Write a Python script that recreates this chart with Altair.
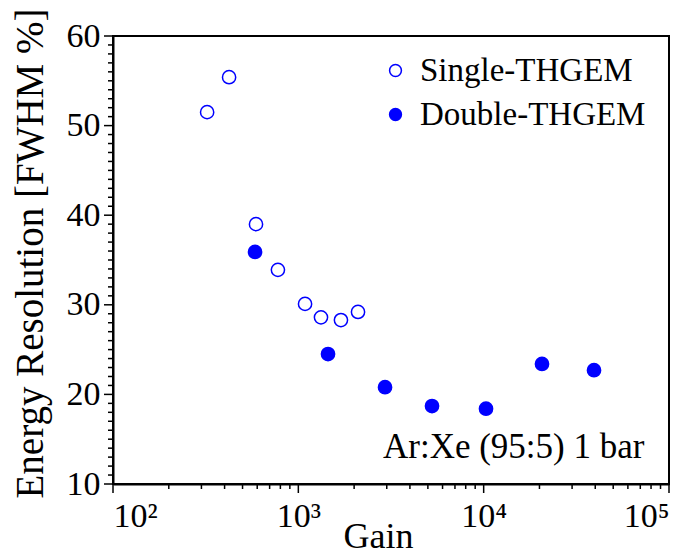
import altair as alt
import pandas as pd

# ---- data ----
single_gain = [322, 423, 591, 776, 1087, 1325, 1698, 2099]
single_res = [51.5, 55.4, 39.0, 33.9, 30.1, 28.6, 28.3, 29.2]
double_gain = [584, 1446, 2936, 5264, 10295, 20640, 39390]
double_res = [35.9, 24.5, 20.8, 18.7, 18.4, 23.4, 22.7]
series_names = ["Single-THGEM", "Double-THGEM"]

x_major = [100, 1000, 10000, 100000]
x_major_labels = ["10²", "10³", "10⁴", "10⁵"]
x_minor = [m * 10 ** e for e in (2, 3, 4) for m in range(2, 10)]
y_major = [10, 20, 30, 40, 50, 60]
y_minor = [v for v in range(10, 61) if v % 10 != 0]
annotation = "Ar:Xe (95:5) 1 bar"

FONT = "Liberation Serif"
BLUE = "#0000ff"
PLOT_W, PLOT_H = 556, 448

df = pd.DataFrame(
    {
        "gain": single_gain + double_gain,
        "res": single_res + double_res,
        "series": [series_names[0]] * len(single_gain) + [series_names[1]] * len(double_gain),
    }
)

label_expr = " : ".join(
    f"datum.value == {v} ? '{l}'" for v, l in zip(x_major, x_major_labels)
) + " : ''"

x_scale = alt.Scale(type="log", domain=[100, 100000], nice=False)
y_scale = alt.Scale(domain=[10, 60], nice=False, zero=False)

x_axis = alt.Axis(
    orient="bottom",
    values=x_major,
    labelExpr=label_expr,
    labelOverlap=False,
    labelFont=FONT,
    labelFontSize=34,
    labelColor="black",
    labelPadding=6,
    tickSize=9,
    tickOpacity=0,
    domainColor="black",
    domainWidth=2,
    grid=False,
    title="Gain",
    titleFont=FONT,
    titleFontSize=36,
    titleFontWeight="normal",
    titleColor="black",
    titleX=265,
    titleY=63,
    titleAlign="center",
    titleBaseline="alphabetic",
)

y_axis = alt.Axis(
    orient="left",
    values=y_major,
    labelOverlap=False,
    labelFont=FONT,
    labelFontSize=34,
    labelColor="black",
    labelPadding=4,
    tickSize=9,
    tickOpacity=0,
    domainColor="black",
    domainWidth=2,
    grid=False,
    title="Energy Resolution [FWHM %]",
    titleFont=FONT,
    titleFontSize=39,
    titleFontWeight="normal",
    titleColor="black",
    titleAngle=-90,
    titleX=-71,
    titleY=217,
    titleAlign="center",
    titleBaseline="alphabetic",
)

points = (
    alt.Chart(df)
    .mark_point(shape="circle", filled=True, stroke=BLUE, strokeWidth=1.5, size=175, opacity=1)
    .encode(
        x=alt.X("gain:Q", scale=x_scale, axis=x_axis),
        y=alt.Y("res:Q", scale=y_scale, axis=y_axis),
        fill=alt.Fill(
            "series:N",
            scale=alt.Scale(domain=series_names, range=["white", BLUE]),
            legend=alt.Legend(
                title=None,
                orient="none",
                legendX=266,
                legendY=18,
                symbolType="circle",
                symbolSize=140,
                symbolStrokeColor=BLUE,
                symbolStrokeWidth=1.5,
                labelFont=FONT,
                labelFontSize=33,
                labelColor="black",
                labelOffset=8,
                labelLimit=0,
                rowPadding=10,
                padding=0,
            ),
        ),
    )
)


def x_ticks_layer(values, length):
    return (
        alt.Chart(pd.DataFrame({"gain": values}))
        .mark_rule(color="black", strokeWidth=1.5)
        .encode(
            x=alt.X("gain:Q", scale=x_scale, axis=None),
            y=alt.value(PLOT_H),
            y2=alt.value(PLOT_H + length),
        )
    )


def y_ticks_layer(values, length):
    return (
        alt.Chart(pd.DataFrame({"res": values}))
        .mark_rule(color="black", strokeWidth=1.5)
        .encode(
            y=alt.Y("res:Q", scale=y_scale, axis=None),
            x=alt.value(0),
            x2=alt.value(-length),
        )
    )


note = (
    alt.Chart(pd.DataFrame({"t": [annotation]}))
    .mark_text(align="left", baseline="alphabetic", font=FONT, fontSize=35, color="black")
    .encode(text="t:N", x=alt.value(270), y=alt.value(422))
)

chart = (
    alt.layer(
        points,
        x_ticks_layer(x_major, 9),
        x_ticks_layer(x_minor, 5),
        y_ticks_layer(y_major, 9),
        y_ticks_layer(y_minor, 5),
        note,
    )
    .resolve_axis(x="independent", y="independent")
    .properties(
        width=PLOT_W,
        height=PLOT_H,
        autosize=alt.AutoSizeParams(type="none"),
        padding={"left": 113, "top": 36, "right": 25, "bottom": 72},
        background="white",
    )
    .configure_view(stroke="black", strokeWidth=2)
)

chart.save("out.html", embed_options={"renderer": "svg", "actions": False})
